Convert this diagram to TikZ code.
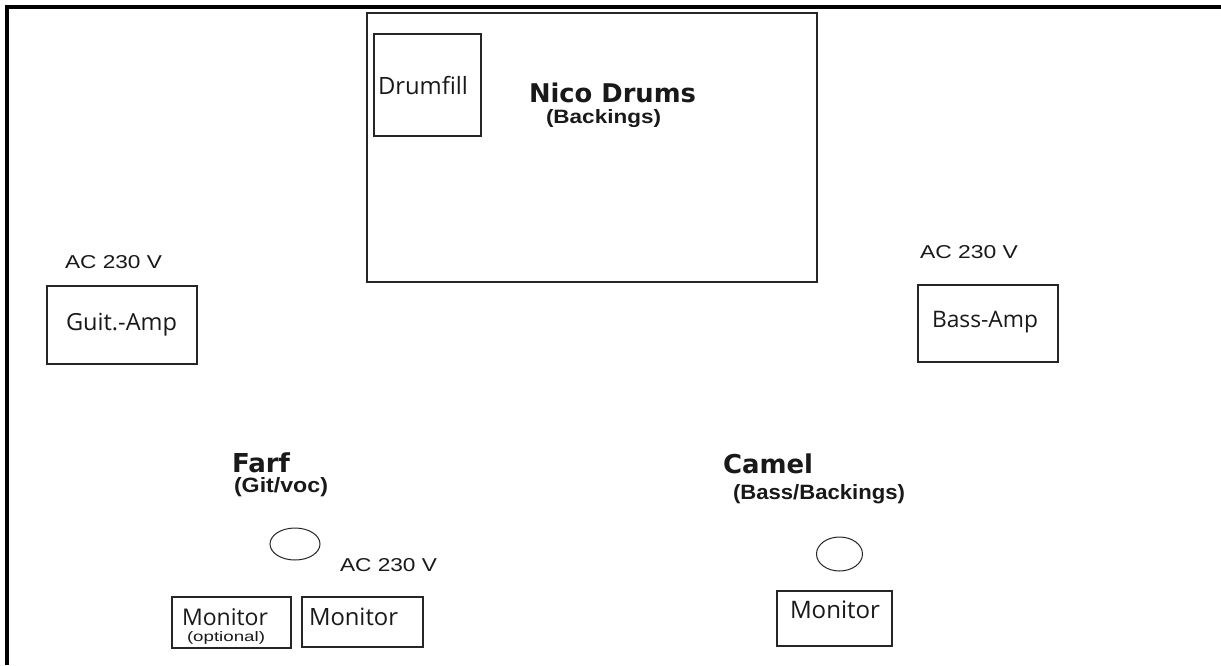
\documentclass[tikz,border=0pt]{standalone}
\usepackage{fontspec}
\usepackage{graphicx}
\usetikzlibrary{shapes.geometric}
\setmainfont{Liberation Sans}
\newfontfamily\humfont{Open Sans}
\newfontfamily\boldfont{DejaVu Sans}[BoldFont={DejaVu Sans Bold}]
\newcommand\fitw[2]{\resizebox{#1pt}{!}{#2}}
\newcommand\fitwh[3]{\resizebox{#1pt}{#2pt}{#3}}
\tikzset{
  box/.style={draw=black!85, line width=1.4pt, inner sep=0pt, outer sep=0pt, anchor=north west, rectangle},
  spot/.style={draw=black!85, line width=1pt, ellipse, inner sep=0pt},
  lab/.style={anchor=base west, inner sep=0pt, outer sep=0pt, text=black!90},
}
\begin{document}
\begin{tikzpicture}[x=1pt,y=-1pt]
\useasboundingbox (0,0) rectangle (1221,665);
\fill[white] (0,0) rectangle (1221,665);
% stage edges
\coordinate (sbl) at (7,665);
\coordinate (stl) at (7,6.7);
\coordinate (str) at (1221,6.7);
\draw[line width=4pt, miter limit=10] (sbl) -- (stl) -- (str);
% boxes
\node[box, minimum width=450pt, minimum height=269pt] (drums) at (367,13) {};
\node[box, minimum width=107pt, minimum height=102pt] (drumfill) at (374,34) {};
\node[box, minimum width=150pt, minimum height=78pt] (guit) at (47,286) {};
\node[box, minimum width=140pt, minimum height=77pt] (bass) at (918,285) {};
\node[box, minimum width=119pt, minimum height=51pt] (mon1) at (172,597) {};
\node[box, minimum width=121pt, minimum height=50pt] (mon2) at (302,597) {};
\node[box, minimum width=115pt, minimum height=55pt] (mon3) at (777,591) {};
% spots
\node[spot, minimum width=50pt, minimum height=32pt] (farfspot) at (295,544) {};
\node[spot, minimum width=46pt, minimum height=34pt] (camelspot) at (839.5,554) {};
% labels
\node[lab] (tdrumfill) at (378,94) {\fitw{90}{\humfont Drumfill}};
\node[lab] (tnico) at (529,102) {\fitw{167}{\boldfont\bfseries Nico Drums}};
\node[lab] (tback) at (546,123) {\fitwh{115}{14}{\bfseries (Backings)}};
\node[lab] (acl) at (65,268) {\fitwh{97}{13}{AC 230 V}};
\node[lab] (tguit) at (66,330) {\fitw{111}{\humfont Guit.-Amp}};
\node[lab] (acr) at (920,258) {\fitwh{98}{13}{AC 230 V}};
\node[lab] (tbass) at (932,327) {\fitw{106}{\humfont Bass-Amp}};
\node[lab] (tfarf) at (232,472) {\fitw{58}{\boldfont\bfseries Farf}};
\node[lab] (tgit) at (234,492) {\fitwh{94}{15}{\bfseries (Git/voc)}};
\node[lab] (acm) at (340,571) {\fitwh{97}{13}{AC 230 V}};
\node[lab] (tcamel) at (723,473) {\fitw{90}{\boldfont\bfseries Camel}};
\node[lab] (tbb) at (733,499) {\fitwh{172}{15}{\bfseries (Bass/Backings)}};
\node[lab] (tmon1) at (182,625) {\fitw{86}{\humfont Monitor}};
\node[lab] (topt) at (187,641) {\fitwh{78}{10}{(optional)}};
\node[lab] (tmon2) at (309,625) {\fitw{89}{\humfont Monitor}};
\node[lab] (tmon3) at (790,618) {\fitw{90}{\humfont Monitor}};
\end{tikzpicture}
\end{document}
